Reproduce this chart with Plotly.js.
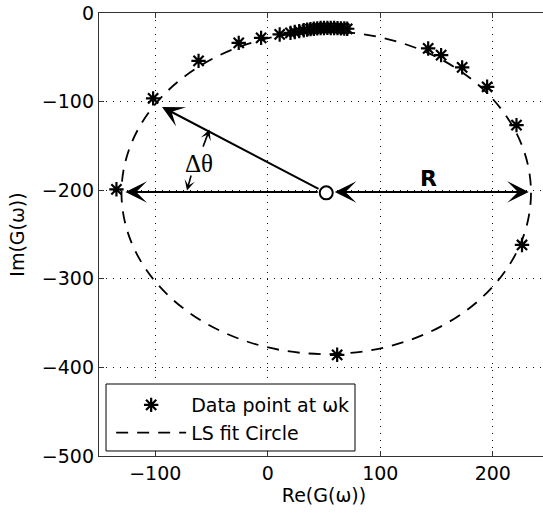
<!DOCTYPE html>
<html><head><meta charset="utf-8">
<script src="https://cdn.plot.ly/plotly-3.0.1.min.js"></script>
<style>html,body{margin:0;padding:0;overflow:hidden;background:#fff}#chart{width:552px;height:516px}</style>
</head><body><div id="chart"></div>
<script>
// Measured data points (Re, Im)
const reValues = [61.7, -134.5, -101.9, -61.5, -25.8, -5.9, 10.6, 20.2, 24, 28, 32, 35, 38, 41, 44, 47, 50, 53, 56, 59, 62, 65, 68, 70.6, 142.6, 154.1, 172.8, 195.0, 221.1, 226.0];
const imValues = [-385.8, -199.0, -96.4, -54.0, -33.7, -28.1, -24.2, -22.4, -21.5, -20.5, -19.5, -18.8, -18.2, -17.7, -17.3, -17.0, -16.9, -16.8, -16.9, -17.0, -17.1, -17.3, -17.5, -17.8, -40.0, -47.6, -61.4, -83.3, -126.5, -261.8];
// LS fit circle
const circleCenterRe = 52;
const circleCenterIm = -203;
const circleRadius = 182;
// Axis ticks
const xTickVals = [-100, 0, 100, 200];
const yTickVals = [0, -100, -200, -300, -400, -500];
const seriesNames = ['Data point at ωk', 'LS fit Circle'];

const FONT = 'DejaVu Sans';
const axisCommon = {
  ticks: 'inside', ticklen: 5, tickcolor: '#333', tickwidth: 1,
  showline: true, linecolor: '#333', linewidth: 1.2, mirror: 'ticks',
  showgrid: true, gridcolor: '#111', griddash: '1px,6px', gridwidth: 1,
  zeroline: false,
  tickfont: {family: FONT, size: 19, color: '#000'}
};

const traces = [
  {
    x: reValues, y: imValues, mode: 'markers', type: 'scatter', name: seriesNames[0],
    marker: {symbol: 'asterisk-open', size: 12, color: '#000', line: {color: '#000', width: 2.2}}
  },
  {
    x: [null], y: [null], mode: 'lines', type: 'scatter', name: seriesNames[1],
    line: {color: '#000', width: 1.8, dash: '12px,9px'}
  },
  {
    x: [circleCenterRe], y: [circleCenterIm], mode: 'markers', type: 'scatter', showlegend: false,
    marker: {symbol: 'circle', size: 13, color: '#fff', line: {color: '#000', width: 2}}
  }
];

const cx = circleCenterRe, cy = circleCenterIm, R = circleRadius;
const arrowBase = {xref: 'x', yref: 'y', axref: 'x', ayref: 'y', showarrow: true, text: '',
  arrowhead: 3, arrowsize: 1.8, arrowwidth: 2, arrowcolor: '#000', startstandoff: 7};

const annotations = [
  Object.assign({}, arrowBase, {x: -94, y: -106, ax: cx, ay: cy}),
  Object.assign({}, arrowBase, {x: cx - R + 3.5, y: cy + 1, ax: cx, ay: cy + 1}),
  Object.assign({}, arrowBase, {x: cx + R - 2, y: cy + 1, ax: cx, ay: cy + 1,
    arrowside: 'end+start', startarrowhead: 3, startarrowsize: 1.8}),
  Object.assign({}, arrowBase, {x: -51.8, y: -131.6, ax: -58, ay: -152.5, arrowwidth: 1.6, arrowsize: 1.1, startstandoff: 0}),
  Object.assign({}, arrowBase, {x: -71.8, y: -200.3, ax: -67.8, ay: -181.7, arrowwidth: 1.6, arrowsize: 1.1, startstandoff: 0}),
  {xref: 'x', yref: 'y', x: -61.2, y: -169.9, text: 'Δθ', showarrow: false,
    font: {family: 'Liberation Serif', size: 25, color: '#000'}},
  {xref: 'x', yref: 'y', x: 143.3, y: -186.6, text: '<b>R</b>', showarrow: false,
    font: {family: FONT, size: 22, color: '#000'}}
];

const shapes = [
  {type: 'circle', xref: 'x', yref: 'y', x0: cx - R, x1: cx + R, y0: cy - R, y1: cy + R,
   line: {color: '#000', width: 1.8, dash: '12px,9px'}, layer: 'between'},
  {type: 'rect', xref: 'paper', yref: 'paper', x0: 0.0156, x1: 0.5689, y0: 0.0113, y1: 0.1625,
   line: {color: '#000', width: 1}, fillcolor: '#fff', layer: 'above'}
];

const layout = {
  width: 552, height: 516,
  margin: {l: 99, r: 3, t: 13, b: 60},
  paper_bgcolor: '#fff', plot_bgcolor: '#fff',
  showlegend: true,
  legend: {x: 0.027, y: 0.158, xanchor: 'left', yanchor: 'top', bgcolor: 'rgba(0,0,0,0)',
    borderwidth: 0, itemwidth: 70, font: {family: FONT, size: 19, color: '#000'}},
  xaxis: Object.assign({}, axisCommon, {range: [-150, 250], tickvals: xTickVals,
    title: {text: 'Re(G(ω))', font: {family: FONT, size: 19, color: '#000'}, standoff: 4}}),
  yaxis: Object.assign({}, axisCommon, {range: [-500, 0], tickvals: yTickVals,
    title: {text: 'Im(G(ω))', font: {family: FONT, size: 19, color: '#000'}, standoff: 12}}),
  annotations: annotations,
  shapes: shapes
};

Plotly.newPlot('chart', traces, layout, {displayModeBar: false, staticPlot: true});
</script>
</body></html>
